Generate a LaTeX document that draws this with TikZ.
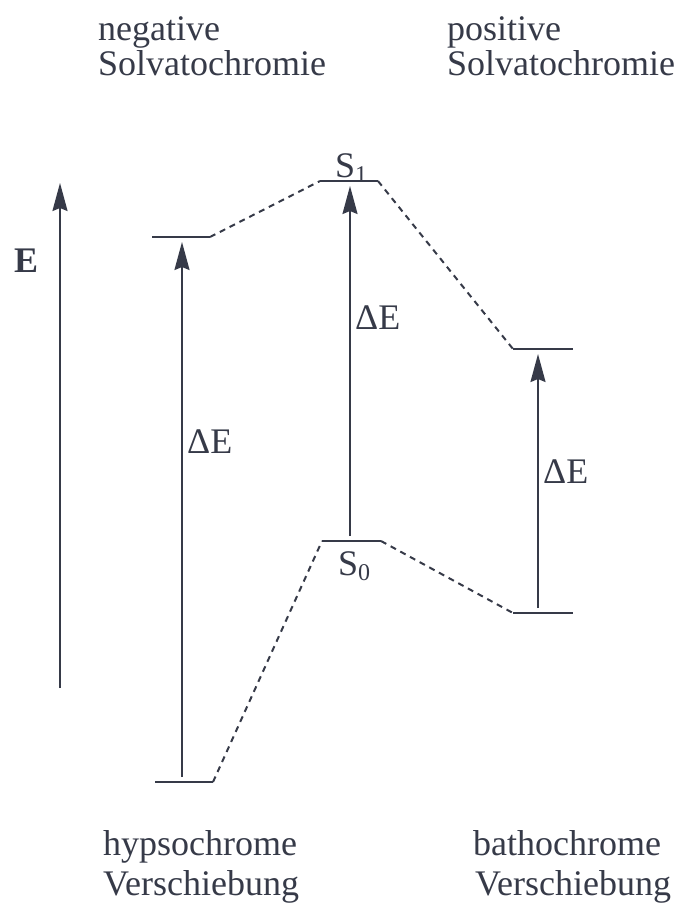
\documentclass[tikz,border=0pt]{standalone}
\usepackage{fontspec}
\setmainfont{Liberation Serif}
\usetikzlibrary{arrows.meta, positioning, calc}
\definecolor{ink}{RGB}{54,58,72}
\newcommand{\lvlsub}[1]{\raisebox{-5pt}{\fontsize{24}{24}\selectfont #1}}

\begin{document}
\begin{tikzpicture}[
	x=1pt, y=-1pt,
	every node/.style={text=ink, inner sep=0pt, font=\fontsize{36}{40}\selectfont},
	label/.style={anchor=base west},
	level/.style={draw=ink, line width=2pt},
	link/.style={draw=ink, line width=2pt, dash pattern=on 6pt off 5pt},
	arrow/.style={draw=ink, line width=2pt, -{Stealth[length=28pt, width=15pt, inset=3pt]}, shorten <=5pt, shorten >=5pt}
]
\useasboundingbox (0,0) rectangle (688,905);

% Headings
\node[label] (neg) at (98,40) {negative};
\node[label] (negsolv) at (98,75) {Solvatochromie};
\node[label] (pos) at (447,40) {positive};
\node[label] (possolv) at (447,75) {Solvatochromie};

% Energy axis
\coordinate (Ebot) at (60,688);
\coordinate (Etop) at (60,183);
\draw[arrow, shorten <=0pt, shorten >=0pt] (Ebot) -- (Etop);
\node[label, font=\fontsize{36}{40}\selectfont\bfseries] (E) at (14,272) {E};

% Levels, hypsochrome side
\coordinate (H1a) at (152,237); \coordinate (H1b) at (210,237);
\coordinate (H0a) at (155,782); \coordinate (H0b) at (213,782);
\draw[level] (H1a) -- (H1b);
\draw[level] (H0a) -- (H0b);

% Levels, middle
\coordinate (S1a) at (320,181); \coordinate (S1b) at (378,181);
\coordinate (S0a) at (322,541); \coordinate (S0b) at (381,541);
\draw[level] (S1a) -- (S1b);
\draw[level] (S0a) -- (S0b);
\node[label] (S1) at (335,177) {S\lvlsub{1}};
\node[label] (S0) at (338,575) {S\lvlsub{0}};

% Levels, bathochrome side
\coordinate (B1a) at (513,349); \coordinate (B1b) at (573,349);
\coordinate (B0a) at (513,613); \coordinate (B0b) at (573,613);
\draw[level] (B1a) -- (B1b);
\draw[level] (B0a) -- (B0b);

% Dashed links
\draw[link] (H1b) -- (S1a);
\draw[link] (S1b) -- (B1a);
\draw[link] (H0b) -- (S0a);
\draw[link] (S0b) -- (B0a);

% Transitions
\coordinate (Hlo) at (182,782); \coordinate (Hhi) at (182,237);
\coordinate (Mlo) at (350,541); \coordinate (Mhi) at (350,181);
\coordinate (Blo) at (538,613); \coordinate (Bhi) at (538,349);
\draw[arrow] (Hlo) -- (Hhi);
\draw[arrow] (Mlo) -- (Mhi);
\draw[arrow] (Blo) -- (Bhi);
\node[label] (dEH) at (187,453) {ΔE};
\node[label] (dEM) at (355,329) {ΔE};
\node[label] (dEB) at (543,483) {ΔE};

% Footers
\node[label] (hyp) at (103,855) {hypsochrome};
\node[label] (hypv) at (103,895) {Verschiebung};
\node[label] (bat) at (473,855) {bathochrome};
\node[label] (batv) at (475,895) {Verschiebung};
\end{tikzpicture}
\end{document}
